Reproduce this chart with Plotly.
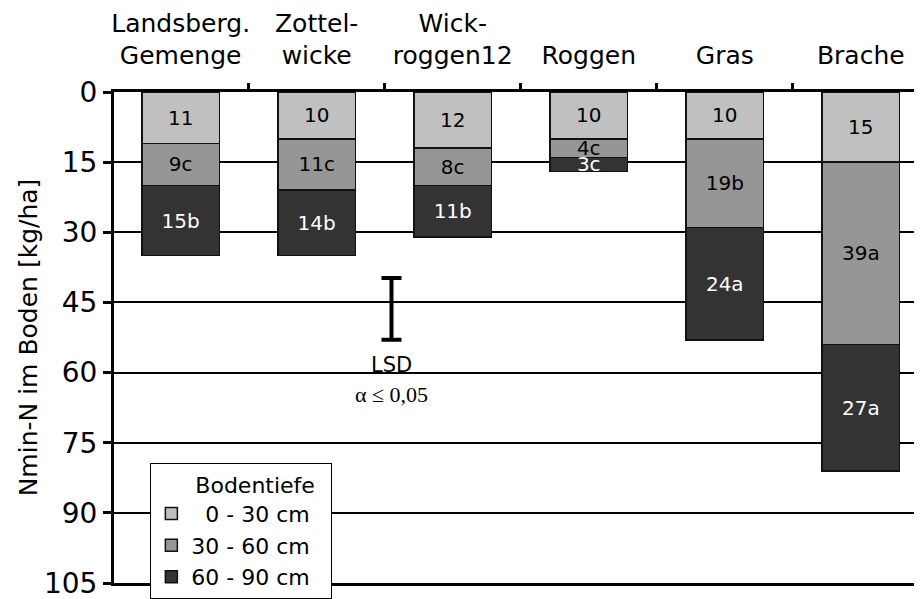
import plotly.graph_objects as go

# Kategorien (Vorfrucht) und Nmin-Werte je Bodenschicht
kategorien = ["Landsberg.<br>Gemenge", "Zottel-<br>wicke", "Wick-<br>roggen12",
              "Roggen", "Gras", "Brache"]
schicht_0_30 = [11, 10, 12, 10, 10, 15]
schicht_30_60 = [9, 11, 8, 4, 19, 39]
schicht_60_90 = [15, 14, 11, 3, 24, 27]
buchst_30_60 = ["c", "c", "c", "c", "b", "a"]
buchst_60_90 = ["b", "b", "b", "c", "a", "a"]
schicht_namen = ["\u20070 - 30 cm", "30 - 60 cm", "60 - 90 cm"]
y_ticks = [0, 15, 30, 45, 60, 75, 90, 105]

# LSD (Grenzdifferenz)
lsd_x = [1.55]
lsd_mitte = [46.4]
lsd_halb = [6.6]

farben = ["#C0C0C0", "#969696", "#333333"]
textfarben = ["black", "black", "white"]
FONT = "DejaVu Sans"

xpos = list(range(len(kategorien)))
werte = [schicht_0_30, schicht_30_60, schicht_60_90]
texte = [
    [str(v) for v in schicht_0_30],
    [f"{v}{b}" for v, b in zip(schicht_30_60, buchst_30_60)],
    [f"{v}{b}" for v, b in zip(schicht_60_90, buchst_60_90)],
]

fig = go.Figure()
for i in range(3):
    fig.add_trace(go.Bar(
        x=xpos, y=werte[i], name=schicht_namen[i],
        width=0.57,
        marker=dict(color=farben[i], line=dict(color="#111111", width=1.5)),
        text=texte[i], textposition="inside", insidetextanchor="middle",
        constraintext="none", textangle=0,
        textfont=dict(family=FONT, size=20, color=textfarben[i]),
    ))

fig.add_trace(go.Scatter(
    x=lsd_x, y=lsd_mitte, mode="markers",
    marker=dict(size=1, color="rgba(0,0,0,0)"),
    error_y=dict(type="data", array=lsd_halb, color="black", thickness=4, width=10),
    showlegend=False, hoverinfo="skip",
))

fig.add_annotation(x=lsd_x[0], y=58.4, xref="x", yref="y", text="LSD",
                   showarrow=False, font=dict(family=FONT, size=21, color="black"))
fig.add_annotation(x=lsd_x[0], y=64.6, xref="x", yref="y", text="\u03b1 \u2264 0,05",
                   showarrow=False, font=dict(family="Liberation Serif", size=22, color="black"))

# Seite hat 8px Rand -> Ränder entsprechend kleiner
fig.update_layout(
    width=922, height=599,
    margin=dict(l=106, r=8, t=84, b=24),
    barmode="stack",
    plot_bgcolor="white", paper_bgcolor="white",
    font=dict(family=FONT, color="black"),
    legend=dict(
        title=dict(text="\u2007\u2007\u2007Bodentiefe\u2007",
                   font=dict(family=FONT, size=22)),
        font=dict(family=FONT, size=22),
        x=0.045, y=0.244, xanchor="left", yanchor="top",
        bgcolor="white", bordercolor="black", borderwidth=1,
        traceorder="normal",
    ),
    xaxis=dict(
        side="top", range=[-0.49, 5.45], automargin=False,
        tickmode="array", tickvals=xpos, ticktext=kategorien,
        ticks="", tickfont=dict(family=FONT, size=25), ticklabelstandoff=15,
        showline=True, linecolor="black", linewidth=3, mirror=True,
        showgrid=False, zeroline=False,
        minor=dict(tickmode="array", tickvals=[0.5, 1.5, 2.5, 3.5, 4.5],
                   ticks="outside", ticklen=6, tickwidth=3, tickcolor="black",
                   showgrid=False),
    ),
    yaxis=dict(
        range=[105, 0], tickmode="array", tickvals=y_ticks, automargin=False,
        ticks="outside", ticklen=8, tickwidth=3, tickcolor="black",
        tickfont=dict(family=FONT, size=28),
        showline=True, linecolor="black", linewidth=3,
        showgrid=True, gridcolor="black", gridwidth=1.5, zeroline=False,
        title=dict(text="Nmin-N im Boden [kg/ha]", font=dict(family=FONT, size=25),
                   standoff=0),
    ),
)

fig.write_html("out.html")
